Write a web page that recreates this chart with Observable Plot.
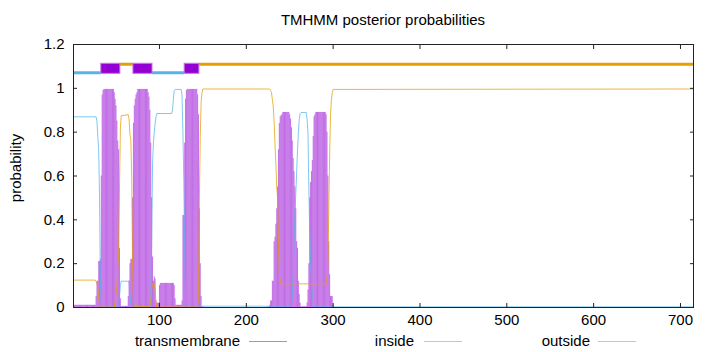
<!DOCTYPE html>
<html>
<head>
<meta charset="utf-8">
<script src="https://cdn.jsdelivr.net/npm/d3@7"></script>
<script src="https://cdn.jsdelivr.net/npm/@observablehq/plot@0.6"></script>
<style>
  body { margin: 0; background: #fff; }
  #wrap { position: relative; width: 720px; height: 352px; font-family: "Liberation Sans", Arial, sans-serif; color: #000; }
  #wrap svg { position: absolute; left: 0; top: 0; }
  .txt { position: absolute; font-size: 15px; line-height: 17px; white-space: nowrap; }
  .sample { position: absolute; height: 0; width: 38px; top: 341px; }
</style>
</head>
<body>
<div id="wrap">
  <div id="chart"></div>
  <div class="txt" style="left:73px;width:620px;top:11px;text-align:center">TMHMM posterior probabilities</div>
  <div class="txt" style="left:15px;top:168px;transform:translate(-50%,-50%) rotate(-90deg)">probability</div>
  <div class="txt" style="left:0;width:240px;top:332px;text-align:right">transmembrane</div>
  <div class="sample" style="left:249px;border-top:1px solid #c77be0"></div>
  <div class="txt" style="left:0;width:414px;top:332px;text-align:right">inside</div>
  <div class="sample" style="left:424px;border-top:1px solid #9fd3f0"></div>
  <div class="txt" style="left:0;width:590px;top:332px;text-align:right">outside</div>
  <div class="sample" style="left:598px;border-top:1px solid #f0c466"></div>
</div>
<script>
// ---- data ----
const seqLength = 715;
const xTicks = [100, 200, 300, 400, 500, 600, 700];
const yTicks = [0, 0.2, 0.4, 0.6, 0.8, 1, 1.2];

// transmembrane posterior probability, one value per residue
const tmStartA = 1;
const tmA = [
  0.01,0.01,0.01,0.01,0.01,0.01,0.01,0.01,0.01,0.01,          // 1-10
  0.01,0.01,0.01,0.01,0.01,0.01,0.01,0.01,0.01,0.01,          // 11-20
  0.01,0.01,0.01,0.01,0.01,0.01,0.05,0.12,0.12,0.21,          // 21-30
  0.21,0.22,0.6,0.97,0.99,0.995,0.995,0.995,0.995,0.995,      // 31-40
  0.995,0.995,0.995,0.995,0.995,0.995,0.995,0.98,0.95,0.92,   // 41-50
  0.85,0.76,0.72,0.27,0.04,0.005,0.005,0.005,0.005,0.005,     // 51-60
  0.005,0.005,0.005,0.05,0.12,0.2,0.22,0.22,0.5,0.84,         // 61-70
  0.92,0.95,0.97,0.98,0.995,0.995,0.995,0.995,0.995,0.995,    // 71-80
  0.995,0.995,0.995,0.995,0.995,0.995,0.98,0.96,0.9,0.75,     // 81-90
  0.5,0.23,0.12,0.14,0.13,0.03,0.02,0.02,0.02,0.1,            // 91-100
  0.11,0.11,0.11,0.11,0.11,0.11,0.11,0.11,0.11,0.11,          // 101-110
  0.11,0.11,0.11,0.11,0.11,0.11,0.1,0.04,0.01,0.01,           // 111-120
  0.01,0.01,0.01,0.01,0.01,0.03,0.42,0.42,0.75,0.95,          // 121-130
  0.99,0.995,0.995,0.995,0.995,0.995,0.995,0.995,0.995,0.995, // 131-140
  0.995,0.995,0.995,0.97,0.88,0.45,0.2,0.05,0.003,0.003       // 141-150
];
const tmStartB = 225;
const tmB = [
  0.003,0.003,0.01,0.03,0.03,0.12,                            // 225-230
  0.12,0.3,0.32,0.38,0.45,0.55,0.72,0.84,0.87,0.875,          // 231-240
  0.88,0.89,0.89,0.89,0.89,0.89,0.89,0.89,0.89,0.88,          // 241-250
  0.86,0.82,0.76,0.68,0.62,0.55,0.45,0.3,0.27,0.12,           // 251-260
  0.06,0.02,0.003,0.003,0.003,0.003,0.003,0.003,0.003,0.02,   // 261-270
  0.08,0.2,0.5,0.57,0.62,0.67,0.78,0.87,0.88,0.89,            // 271-280
  0.89,0.89,0.89,0.89,0.89,0.89,0.89,0.89,0.89,0.89,          // 281-290
  0.89,0.88,0.8,0.6,0.3,0.15,0.05,0.05,0.05,0.01              // 291-300
];

// inside posterior probability: [residue, value]
const inside = [
  [1,0.87],[27,0.87],[28,0.85],[29,0.78],[30,0.72],[31,0.5],[32,0.1],[33,0.02],[34,0.002],
  [52,0.002],[53,0.01],[54,0.05],[55,0.1],[56,0.12],[65,0.12],[66,0.06],[67,0.01],[68,0.002],
  [89,0.002],[90,0.02],[91,0.3],[92,0.65],[93,0.75],[94,0.8],[95,0.84],[96,0.87],[97,0.885],
  [114,0.885],[115,0.9],[116,0.95],[117,0.99],[118,0.995],[125,0.995],[126,0.97],[127,0.8],
  [128,0.58],[129,0.28],[130,0.03],[131,0.002],[148,0.002],[149,0.006],[225,0.006],[226,0.003],
  [252,0.003],[253,0.05],[254,0.15],[255,0.3],[256,0.42],[257,0.52],[258,0.62],[259,0.72],
  [260,0.8],[261,0.86],[262,0.885],[263,0.89],[269,0.89],[270,0.86],[271,0.8],[272,0.55],
  [273,0.35],[274,0.22],[275,0.12],[276,0.06],[277,0.03],[278,0.01],[279,0.003],[715,0.003]
];

// outside posterior probability: [residue, value]
const outside = [
  [1,0.125],[26,0.125],[27,0.12],[28,0.11],[29,0.09],[30,0.05],[31,0.01],[32,0.002],
  [48,0.002],[49,0.03],[50,0.06],[51,0.1],[52,0.18],[53,0.26],[54,0.55],[55,0.82],[56,0.875],
  [64,0.88],[65,0.86],[66,0.79],[67,0.77],[68,0.6],[69,0.2],[70,0.03],[71,0.005],
  [89,0.005],[90,0.03],[91,0.08],[92,0.11],[94,0.11],[95,0.08],[96,0.02],[97,0.002],
  [143,0.002],[144,0.01],[145,0.05],[146,0.5],[147,0.78],[148,0.94],[149,0.98],[150,0.997],
  [227,0.997],[228,0.99],[229,0.98],[230,0.95],[231,0.92],[232,0.85],[233,0.75],[234,0.66],
  [235,0.55],[236,0.5],[237,0.3],[238,0.16],[239,0.12],[240,0.108],[292,0.108],[293,0.13],
  [294,0.2],[295,0.45],[296,0.7],[297,0.88],[298,0.95],[299,0.98],[300,0.995],[715,0.997]
];

// predicted topology segments [start, end]
const topoInside = [[1, 33], [92, 129]];
const topoHelix = [[33, 55], [70, 92], [129, 146]];
const topoOutside = [[55, 70], [146, 715]];

// ---- build chart ----
const tmData = tmA.map((p, i) => ({r: tmStartA + i, p}))
  .concat(tmB.map((p, i) => ({r: tmStartB + i, p})));

const insideLevel = 1.071, outsideLevel = 1.11;

const chart = Plot.plot({
  width: 720,
  height: 352,
  marginTop: 44,
  marginBottom: 45,
  marginLeft: 73,
  marginRight: 27,
  x: {domain: [1, seqLength]},
  y: {domain: [0, 1.2]},
  style: {fontFamily: "'Liberation Sans', Arial, sans-serif", fontSize: "15px", color: "#000", background: "transparent"},
  marks: [
    Plot.ruleX(tmData, {x: "r", y1: 0, y2: "p", stroke: "#9400d3", strokeOpacity: 0.52, strokeWidth: 1}),
    Plot.line(inside, {x: d => d[0], y: d => d[1], stroke: "#56b4e9", strokeWidth: 1, strokeOpacity: 0.75}),
    Plot.line(outside, {x: d => d[0], y: d => d[1], stroke: "#e69f00", strokeWidth: 1, strokeOpacity: 0.75}),
    Plot.ruleY(topoInside, {x1: d => d[0], x2: d => d[1], y: insideLevel, stroke: "#56b4e9", strokeWidth: 3}),
    Plot.ruleY(topoOutside, {x1: d => d[0], x2: d => d[1], y: outsideLevel, stroke: "#e69f00", strokeWidth: 3}),
    Plot.rect(topoHelix, {x1: d => d[0], x2: d => d[1], y1: 1.066, y2: 1.112, fill: "#9400d3", stroke: "#c77be0", strokeWidth: 1}),
    Plot.frame({stroke: "#222"}),
    Plot.axisX(xTicks, {anchor: "bottom", tickSize: 0, tickPadding: 7, label: null}),
    Plot.axisX(xTicks, {anchor: "bottom", tickSize: -4, fill: "none", label: null, stroke: "#222"}),
    Plot.axisX(xTicks, {anchor: "top", tickSize: -4, fill: "none", label: null, stroke: "#222"}),
    Plot.axisY(yTicks, {anchor: "left", tickSize: 0, tickPadding: 9, label: null, tickFormat: d => String(d)}),
    Plot.axisY(yTicks, {anchor: "left", tickSize: -4, fill: "none", label: null, stroke: "#222"}),
    Plot.axisY(yTicks, {anchor: "right", tickSize: -4, fill: "none", label: null, stroke: "#222"})
  ]
});
document.getElementById("chart").appendChild(chart);
</script>
</body>
</html>
